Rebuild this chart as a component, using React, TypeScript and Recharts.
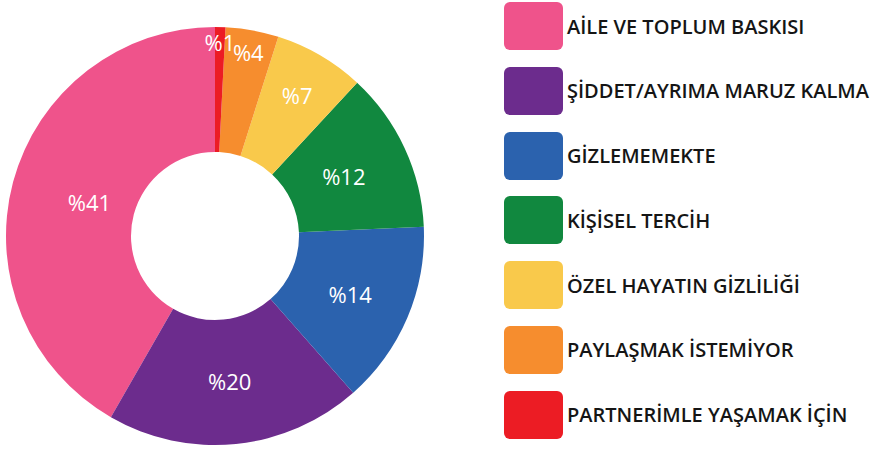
import React from "react";
import { PieChart, Pie, Cell, Legend } from "recharts";

const categories = [
  "AİLE VE TOPLUM BASKISI",
  "ŞİDDET/AYRIMA MARUZ KALMA",
  "GİZLEMEMEKTE",
  "KİŞİSEL TERCİH",
  "ÖZEL HAYATIN GİZLİLİĞİ",
  "PAYLAŞMAK İSTEMİYOR",
  "PARTNERİMLE YAŞAMAK İÇİN",
];
const values = [41.7, 19.8, 14.2, 12.4, 7.0, 4.1, 0.8];
const percentLabels = ["%41", "%20", "%14", "%12", "%7", "%4", "%1"];
const colors = ["#EF538B", "#6C2C8D", "#2B62AE", "#11883F", "#F9C94B", "#F68D2E", "#EC1C24"];

const data = categories.map((name, i) => ({ name, value: values[i] }));

const LABEL_RADII = [130, 146, 147, 142, 163, 187, 194];
const RAD = Math.PI / 180;

const renderLabel = (props: any) => {
  const { cx, cy, midAngle, index } = props;
  const r = LABEL_RADII[index] ?? 150;
  const x = cx + r * Math.cos(-midAngle * RAD);
  const y = cy + r * Math.sin(-midAngle * RAD);
  return (
    <text
      x={x}
      y={y}
      fill="#ffffff"
      textAnchor="middle"
      dominantBaseline="central"
      style={{ fontFamily: "'Open Sans', sans-serif", fontSize: 22, fontWeight: 400 }}
    >
      {percentLabels[index]}
    </text>
  );
};

const renderLegend = () => (
  <div style={{ display: "flex", flexDirection: "column" }}>
    {categories.map((c, i) => (
      <div
        key={c}
        style={{ display: "flex", alignItems: "center", height: 48, marginBottom: 16.8 }}
      >
        <div
          style={{ width: 59, height: 48, borderRadius: 6, background: colors[i], flex: "none" }}
        />
        <span
          style={{
            marginLeft: 4,
            fontFamily: "'Open Sans', sans-serif",
            fontSize: 20,
            fontWeight: 600,
            color: "#151515",
            whiteSpace: "nowrap",
          }}
        >
          {c}
        </span>
      </div>
    ))}
  </div>
);

export default function App() {
  return (
    <div style={{ position: "absolute", left: 0, top: 0, width: 870, height: 450, background: "#fff" }}>
      <PieChart width={870} height={450} margin={{ top: 0, right: 0, bottom: 0, left: 0 }}>
        <Pie
          data={data}
          dataKey="value"
          nameKey="name"
          cx={215}
          cy={236}
          innerRadius={84}
          outerRadius={209}
          startAngle={90}
          endAngle={450}
          stroke="none"
          labelLine={false}
          label={renderLabel}
          isAnimationActive={false}
        >
          {data.map((d, i) => (
            <Cell key={d.name} fill={colors[i]} />
          ))}
        </Pie>
        <Legend
          layout="vertical"
          align="right"
          verticalAlign="top"
          content={renderLegend}
          wrapperStyle={{ left: 504, top: 2, right: "auto", width: 366 }}
        />
      </PieChart>
    </div>
  );
}
